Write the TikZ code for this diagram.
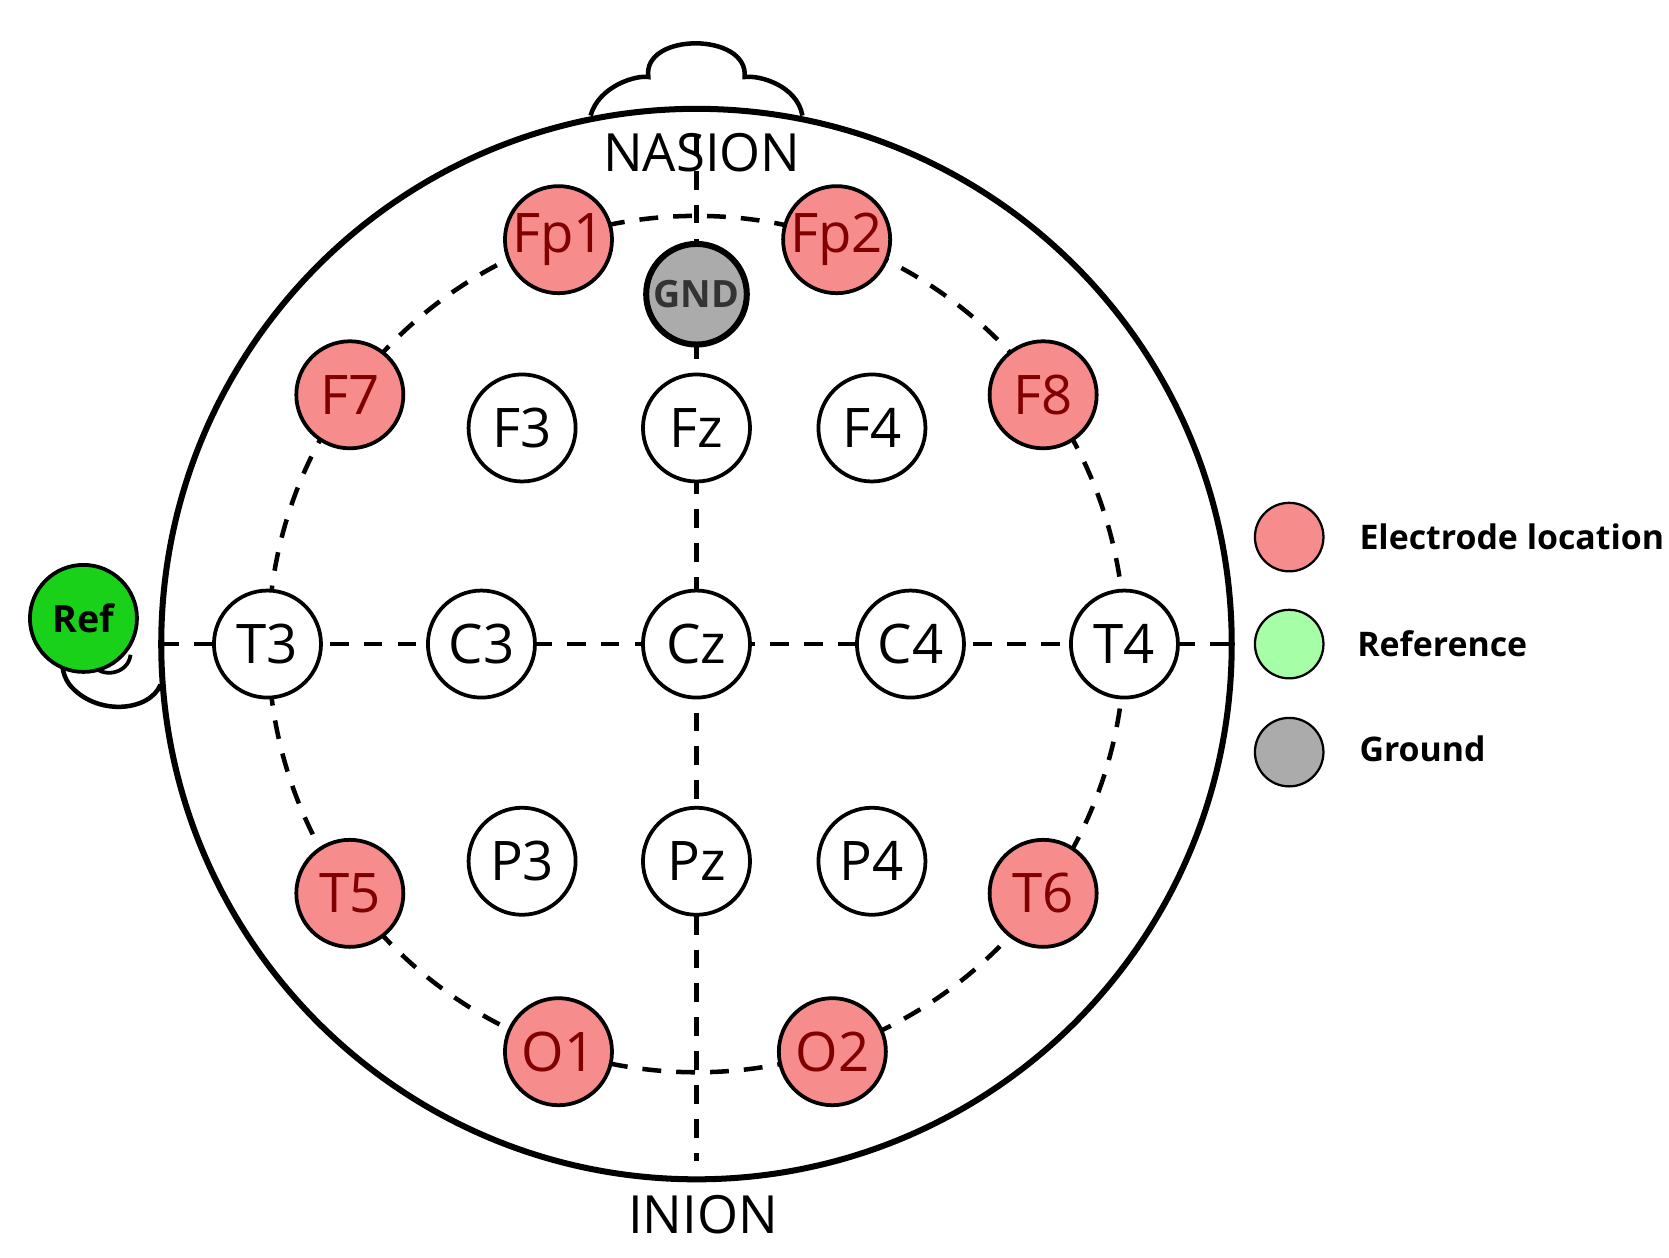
\documentclass[tikz,border=0pt]{standalone}
\usepackage{fontspec}
\setmainfont{Open Sans}
\begin{document}
\begin{tikzpicture}[x=0.01cm,y=-0.01cm,
 el/.style={circle,draw=black,line width=1pt,minimum size=1cm,inner sep=0pt,fill=white,font=\fontsize{14.5}{14.5}\selectfont},
 rd/.style={el,fill=elred,text=red!50!black},
 dsh/.style={line width=1.2pt,dash pattern=on 5pt off 4pt},
 leg/.style={circle,draw=black,line width=0.6pt,minimum size=0.64cm,inner sep=0pt},
 lt/.style={anchor=west,inner sep=0pt,font=\bfseries\fontsize{9}{9}\selectfont}]
\definecolor{elred}{HTML}{F78C8C}
\useasboundingbox (0,0) rectangle (1560,1175);
% nose
\draw[line width=1.2pt,fill=white] (552,108) .. controls (560,80) and (595,70) .. (606,72)
  .. controls (600,30) and (700,30) .. (696,72) .. controls (710,70) and (745,80) .. (750,108);
% ear
\draw[line width=1.2pt,fill=white] (150,640) .. controls (140,665) and (90,670) .. (65,640) .. controls (50,620) and (60,585) .. (90,580);
\draw[line width=1pt] (122,612) .. controls (120,630) and (95,635) .. (85,620);
% head
\node (head) [circle,draw,line width=1.6pt,minimum size=10cm,inner sep=0pt,fill=white] at (651,602) {};
\node (nasion) at (656,143) {\fontsize{14}{14}\selectfont NASION};
\node (inion) at (657,1135) {\fontsize{14}{14}\selectfont INION};
\draw[dsh] (651,602) circle [radius=4cm];
\coordinate (hl) at (150,602); \coordinate (hr) at (1150,602);
\coordinate (vt) at (651,128); \coordinate (vb) at (651,1085);
\draw[dsh] (hl) -- (hr);
\draw[dsh] (vt) -- (vb);
% electrodes
\node[rd] (Fp1) at (522,224) {Fp1};
\node[rd] (Fp2) at (782,224) {Fp2};
\node[el,fill=black!33,minimum size=0.94cm,line width=1.6pt,font=\bfseries\fontsize{10}{10}\selectfont,text=black!80] (GND) at (651,275) {GND};
\node[rd] (F7) at (327,369) {F7};
\node[el] (F3) at (488,400) {F3};
\node[el] (Fz) at (651,400) {Fz};
\node[el] (F4) at (815,400) {F4};
\node[rd] (F8) at (975,369) {F8};
\node[el] (T3) at (250,602) {T3};
\node[el] (C3) at (450,602) {C3};
\node[el] (Cz) at (651,602) {Cz};
\node[el] (C4) at (851,602) {C4};
\node[el] (T4) at (1051,602) {T4};
\node[rd] (T5) at (327,835) {T5};
\node[el] (P3) at (488,805) {P3};
\node[el] (Pz) at (651,805) {Pz};
\node[el] (P4) at (815,805) {P4};
\node[rd] (T6) at (975,835) {T6};
\node[rd] (O1) at (522,983) {O1};
\node[rd] (O2) at (778,983) {O2};
\node[el,fill=green!80!black!90!white,font=\bfseries\fontsize{10}{10}\selectfont] (Ref) at (78,578) {Ref};
% legend
\node[leg,fill=elred] (l1) at (1205,502) {};
\node[leg,fill=green!35!white] (l2) at (1205,602) {};
\node[leg,fill=black!33] (l3) at (1205,703) {};
\node[lt] (t1) at (1270,502) {Electrode location};
\node[lt] (t2) at (1268,602) {Reference};
\node[lt] (t3) at (1270,700) {Ground};
\end{tikzpicture}
\end{document}
